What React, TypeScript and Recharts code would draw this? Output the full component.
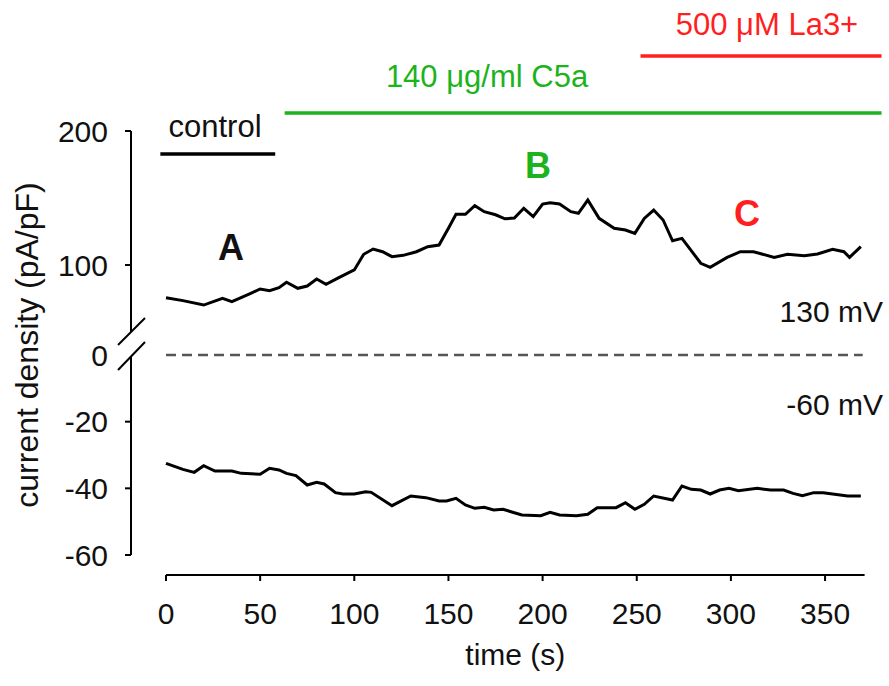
import { LineChart, Line, XAxis, YAxis, ReferenceLine } from 'recharts';

// +130 mV trace (upper panel)
const upperTime = [
  0, 9, 20, 30, 35, 45, 50, 55, 60, 64, 70, 75, 80, 85, 91, 100, 105, 110, 115, 120,
  126, 133, 139, 145, 150, 154, 159, 164, 169, 175, 180, 185, 190, 195, 200, 204, 209,
  215, 219, 224, 230, 238, 244, 249, 254, 259, 264, 269, 274, 284, 289, 298, 305, 312,
  323, 330, 339, 346, 354, 360, 363, 369,
];
const upperDensity = [
  75.6, 73.4, 70.1, 75.1, 72.6, 78.9, 82.1, 80.8, 83.1, 87.1, 82.6, 84.3, 89.6, 85.6,
  90.0, 96.3, 108.0, 111.9, 109.9, 106.2, 107.2, 109.9, 113.7, 114.9, 127.4, 137.8,
  137.8, 144.3, 139.8, 137.5, 134.5, 135.0, 142.3, 136.1, 145.5, 146.5, 145.5, 139.8,
  138.6, 148.5, 134.8, 127.4, 126.1, 123.6, 134.8, 141.0, 133.6, 118.1, 119.9, 101.3,
  98.3, 105.7, 109.9, 109.9, 105.7, 108.0, 106.9, 108.2, 111.7, 109.9, 105.7, 113.7,
];

// -60 mV trace (lower panel)
const lowerTime = [
  0, 9, 15, 20, 26, 35, 40, 50, 55, 60, 64, 69, 75, 80, 84, 90, 94, 100, 106, 109, 120,
  130, 138, 145, 149, 154, 159, 164, 169, 174, 179, 189, 199, 204, 209, 218, 224, 229,
  239, 244, 249, 254, 259, 269, 274, 279, 284, 289, 294, 299, 304, 314, 321, 328, 333,
  338, 344, 349, 354, 362, 369,
];
const lowerDensity = [
  -32.5, -34.3, -35.2, -33.2, -34.8, -34.8, -35.5, -35.8, -34.0, -34.5, -35.5, -36.2,
  -39.0, -38.2, -38.7, -41.3, -41.7, -41.7, -41.0, -41.2, -45.2, -42.3, -42.8, -43.8,
  -43.8, -43.0, -45.0, -46.0, -45.7, -46.5, -46.3, -48.0, -48.2, -47.2, -48.0, -48.2,
  -47.8, -45.8, -45.8, -44.3, -46.3, -44.8, -42.3, -43.5, -39.3, -40.3, -40.5, -41.7,
  -40.5, -40.0, -40.7, -40.0, -40.5, -40.5, -41.5, -42.2, -41.3, -41.3, -41.7, -42.3,
  -42.3,
];

const upperTicks = [100, 200];
const lowerTicks = [-60, -40, -20, 0];
const timeTicks = [0, 50, 100, 150, 200, 250, 300, 350];

// application periods (s) and the row they are drawn on (upper-panel units)
const treatments = [
  { name: 'control', start: -3, end: 58, level: 182.8, color: '#000000' },
  { name: '140 μg/ml C5a', start: 63, end: 380, level: 213.4, color: '#1db31d' },
  { name: '500 μM La3+', start: 252, end: 380, level: 256, color: '#ff1f1f' },
];

const upperData = upperTime.map((t, i) => ({ time: t, density: upperDensity[i] }));
const lowerData = lowerTime.map((t, i) => ({ time: t, density: lowerDensity[i] }));

const W = 889;
const H = 686;
const FONT = '"Liberation Sans", Arial, sans-serif';
const layer = { position: 'absolute' as const, left: 0, top: 0 };
const axisStyle = { stroke: '#000', strokeWidth: 2 };
const tickStyle = { fill: '#111', fontSize: 30 };

export default function App() {
  return (
    <div style={{ position: 'absolute', left: 0, top: 0, width: W, height: H, background: '#fff', fontFamily: FONT }}>
      <div style={layer}>
        <LineChart width={W} height={H} data={upperData} margin={{ top: 131, right: 24.4, bottom: 354, left: 71 }}>
          <XAxis type="number" dataKey="time" domain={[0, 371]} padding={{ left: 35, right: 0 }} hide />
          <YAxis
            type="number"
            domain={[50, 200]}
            ticks={upperTicks}
            width={60}
            tickSize={6}
            tickMargin={17}
            axisLine={axisStyle}
            tickLine={axisStyle}
            tick={tickStyle}
          />
          {treatments.map((tr) => (
            <ReferenceLine
              key={tr.name}
              segment={[
                { x: tr.start, y: tr.level },
                { x: tr.end, y: tr.level },
              ]}
              stroke={tr.color}
              strokeWidth={3.5}
              ifOverflow="visible"
            />
          ))}
          <Line
            dataKey="density"
            stroke="#000"
            strokeWidth={3}
            dot={false}
            isAnimationActive={false}
          />
        </LineChart>
      </div>

      <div style={layer}>
        <LineChart width={W} height={H} data={lowerData} margin={{ top: 355, right: 24.4, bottom: 131, left: 71 }}>
          <XAxis type="number" dataKey="time" domain={[0, 371]} padding={{ left: 35, right: 0 }} hide />
          <YAxis
            type="number"
            domain={[-60, 0]}
            ticks={lowerTicks}
            width={60}
            tickSize={6}
            tickMargin={17}
            axisLine={axisStyle}
            tickLine={axisStyle}
            tick={tickStyle}
          />
          <ReferenceLine
            segment={[
              { x: 0, y: 0 },
              { x: 370, y: 0 },
            ]}
            stroke="#555"
            strokeWidth={2.5}
            strokeDasharray="10 6"
          />
          <Line
            dataKey="density"
            stroke="#000"
            strokeWidth={3}
            dot={false}
            isAnimationActive={false}
          />
        </LineChart>
      </div>

      <div style={layer}>
        <LineChart width={W} height={H} data={lowerData} margin={{ top: 574, right: 24.4, bottom: 11, left: 166 }}>
          <XAxis
            type="number"
            dataKey="time"
            domain={[0, 371]}
            ticks={timeTicks}
            height={100}
            tickSize={6}
            tickMargin={22}
            axisLine={axisStyle}
            tickLine={axisStyle}
            tick={tickStyle}
            label={{ value: 'time (s)', position: 'insideBottom', offset: 10, fill: '#111', fontSize: 30 }}
          />
        </LineChart>
      </div>

      <svg width={W} height={H} style={{ ...layer, pointerEvents: 'none' }} fontFamily={FONT}>
        {/* axis break */}
        <rect x={120} y={333} width={22} height={24} fill="#fff" />
        <line x1={118} y1={345} x2={145} y2={318} stroke="#000" strokeWidth={2} />
        <line x1={118} y1={370} x2={145} y2={342} stroke="#000" strokeWidth={2} />

        <text x={38} y={345} transform="rotate(-90 38 345)" textAnchor="middle" fontSize={32} fill="#111">
          current density (pA/pF)
        </text>

        <text x={215} y={137} textAnchor="middle" fontSize={31} fill="#111">control</text>
        <text x={487} y={87} textAnchor="middle" fontSize={31} fill="#1db31d">140 μg/ml C5a</text>
        <text x={767} y={35} textAnchor="middle" fontSize={31} fill="#ff1f1f">500 μM La3+</text>

        <text x={231} y={260} textAnchor="middle" fontSize={36} fontWeight="bold" fill="#111">A</text>
        <text x={538} y={178} textAnchor="middle" fontSize={36} fontWeight="bold" fill="#1db31d">B</text>
        <text x={747} y={226} textAnchor="middle" fontSize={36} fontWeight="bold" fill="#ff1f1f">C</text>

        <text x={883} y={322} textAnchor="end" fontSize={30} fill="#111">130 mV</text>
        <text x={883} y={415} textAnchor="end" fontSize={30} fill="#111">-60 mV</text>
      </svg>
    </div>
  );
}
